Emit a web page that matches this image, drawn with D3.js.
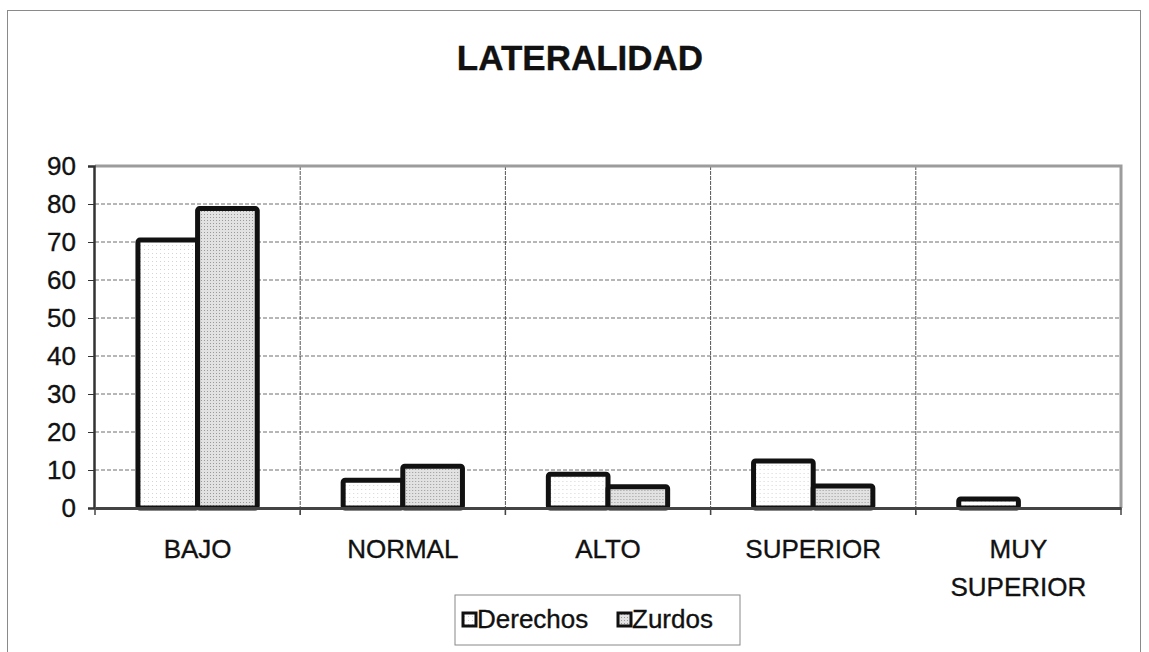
<!DOCTYPE html>
<html>
<head>
<meta charset="utf-8">
<script src="https://cdn.jsdelivr.net/npm/d3@7"></script>
<style>
  body { margin: 0; background: #fff; }
  svg { display: block; font-family: 'Liberation Sans', Arial, sans-serif; }
  text { stroke: #111; stroke-width: 0.35px; }
</style>
</head>
<body>
<div id="chart"></div>
<script>
// data
const categories = ['BAJO', 'NORMAL', 'ALTO', 'SUPERIOR', 'MUY SUPERIOR'];
const seriesNames = ['Derechos', 'Zurdos'];
const derechos = [70.5, 7.3, 8.9, 12.4, 2.4];
const zurdos = [78.8, 11, 5.6, 5.8, 0];
const yTicks = [0, 10, 20, 30, 40, 50, 60, 70, 80, 90];

const width = 1149;
const height = 652;
const plot = { left: 95, right: 1121, top: 166, bottom: 508 };

const svg = d3.select('#chart')
  .append('svg')
  .attr('width', width)
  .attr('height', height);

// halftone-like fills
const defs = svg.append('defs');
const pDer = defs.append('pattern')
  .attr('id', 'fillDer').attr('width', 4).attr('height', 4)
  .attr('patternUnits', 'userSpaceOnUse');
pDer.append('rect').attr('width', 4).attr('height', 4).attr('fill', '#fff');
pDer.append('rect').attr('x', 1).attr('y', 1).attr('width', 1).attr('height', 1).attr('fill', '#d4d4d4');

const pZur = defs.append('pattern')
  .attr('id', 'fillZur').attr('width', 3).attr('height', 3)
  .attr('patternUnits', 'userSpaceOnUse');
pZur.append('rect').attr('width', 3).attr('height', 3).attr('fill', '#e2e2e2');
pZur.append('rect').attr('x', 1).attr('y', 1).attr('width', 1).attr('height', 1).attr('fill', '#9a9a9a');

const fills = { Derechos: 'url(#fillDer)', Zurdos: 'url(#fillZur)' };

// outer chart frame
svg.append('rect')
  .attr('x', 7.5).attr('y', 10.5)
  .attr('width', 1133).attr('height', 660)
  .attr('fill', 'none')
  .attr('stroke', '#8a8a8a')
  .attr('stroke-width', 1);

svg.append('text')
  .attr('x', 580)
  .attr('y', 70)
  .attr('text-anchor', 'middle')
  .style('font-size', '35px')
  .style('font-weight', 'bold')
  .attr('fill', '#111')
  .text('LATERALIDAD');

const x = d3.scaleBand()
  .domain(categories)
  .range([plot.left, plot.right])
  .paddingInner(0)
  .paddingOuter(0);

const xs = d3.scaleBand()
  .domain(seriesNames)
  .range([0, x.bandwidth()])
  .paddingInner(0)
  .paddingOuter(0.72);

const y = d3.scaleLinear()
  .domain([0, 90])
  .range([plot.bottom, plot.top]);

// horizontal gridlines
svg.append('g')
  .selectAll('line')
  .data(yTicks.filter(d => d > 0 && d < 90))
  .enter()
  .append('line')
  .attr('x1', plot.left).attr('x2', plot.right)
  .attr('y1', d => y(d)).attr('y2', d => y(d))
  .attr('stroke', '#6e6e6e')
  .attr('stroke-width', 1)
  .attr('stroke-dasharray', '4,2');

// vertical gridlines between categories
svg.append('g')
  .selectAll('line')
  .data(categories.slice(1))
  .enter()
  .append('line')
  .attr('x1', d => x(d)).attr('x2', d => x(d))
  .attr('y1', plot.top).attr('y2', plot.bottom + 7)
  .attr('stroke', '#555')
  .attr('stroke-width', 1)
  .attr('stroke-dasharray', '4,1');

// top + right plot border (speckled grey)
svg.append('path')
  .attr('d', `M${plot.left},${plot.top}H${plot.right}V${plot.bottom}`)
  .attr('fill', 'none')
  .attr('stroke', '#9c9c9c')
  .attr('stroke-width', 3);

// bars
const rows = categories.map((c, i) => ({ cat: c, values: [
  { name: 'Derechos', value: derechos[i] },
  { name: 'Zurdos', value: zurdos[i] }
] }));

const groups = svg.append('g')
  .selectAll('g')
  .data(rows)
  .enter()
  .append('g')
  .attr('transform', d => `translate(${x(d.cat)},0)`);

groups.selectAll('rect')
  .data(d => d.values.filter(v => v.value > 0))
  .enter()
  .append('rect')
  .attr('x', d => xs(d.name))
  .attr('y', d => y(d.value))
  .attr('width', xs.bandwidth())
  .attr('height', d => y(0) - y(d.value))
  .attr('rx', 2)
  .attr('fill', d => fills[d.name])
  .attr('stroke', '#111')
  .attr('stroke-width', 5);

// y axis
const yAxis = svg.append('g')
  .attr('transform', `translate(${plot.left - 1},0)`)
  .call(d3.axisLeft(y).tickValues(yTicks).tickSize(6).tickPadding(12));
yAxis.select('.domain').attr('stroke', '#333').attr('stroke-width', 2.5);
yAxis.selectAll('.tick line').attr('stroke', '#333');
yAxis.selectAll('.tick text')
  .style('font-size', '26px')
  .attr('fill', '#111');

// x axis
const xAxis = svg.append('g')
  .attr('transform', `translate(0,${plot.bottom})`)
  .call(d3.axisBottom(x).tickSize(0).tickPadding(0));
xAxis.select('.domain').attr('stroke', '#444').attr('stroke-width', 3);
xAxis.selectAll('.tick text')
  .style('font-size', '26px')
  .attr('fill', '#111')
  .attr('dy', null)
  .attr('y', 50)
  .each(function (d) {
    const words = d.split(' ');
    const t = d3.select(this).text(null);
    words.forEach((w, i) => {
      t.append('tspan')
        .attr('x', 0)
        .attr('y', 50 + i * 38)
        .text(w);
    });
  });

// boundary ticks below the axis
svg.append('g')
  .selectAll('line')
  .data([...categories.map(c => x(c)), plot.right])
  .enter()
  .append('line')
  .attr('x1', d => d).attr('x2', d => d)
  .attr('y1', plot.bottom).attr('y2', plot.bottom + 7)
  .attr('stroke', '#444')
  .attr('stroke-width', 1.5);

// legend
const legend = svg.append('g').attr('transform', 'translate(455,595)');
legend.append('rect')
  .attr('width', 285).attr('height', 50)
  .attr('fill', '#fff')
  .attr('stroke', '#888')
  .attr('stroke-width', 1);

const items = [
  { name: 'Derechos', sx: 8, tx: 22 },
  { name: 'Zurdos', sx: 163, tx: 177 }
];
items.forEach(it => {
  legend.append('rect')
    .attr('x', it.sx).attr('y', 18)
    .attr('width', 13).attr('height', 13)
    .attr('fill', fills[it.name])
    .attr('stroke', '#111')
    .attr('stroke-width', 3);
  legend.append('text')
    .attr('x', it.tx).attr('y', 33)
    .style('font-size', '26px')
    .attr('fill', '#111')
    .text(it.name);
});
</script>
</body>
</html>
